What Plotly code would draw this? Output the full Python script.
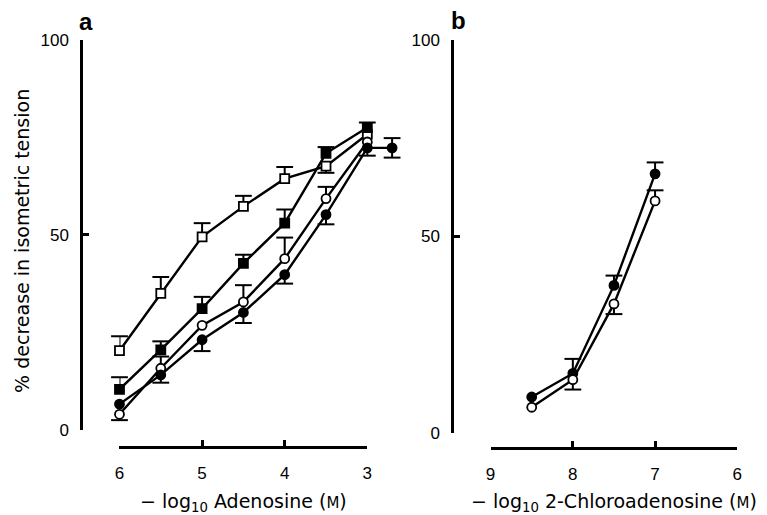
import plotly.graph_objects as go

W, H = 767, 515

# ---------------- data ----------------
# Panel a: -log10 Adenosine (M)
x_aden = [6, 5.5, 5, 4.5, 4, 3.5, 3]
x_aden_fc = [6, 5.5, 5, 4.5, 4, 3.5, 3, 2.7]

open_sq = [20.3, 35.0, 49.5, 57.3, 64.4, 67.6, 75.8]
open_sq_up = [3.7, 4.2, 3.5, 2.7, 3.0, 0, 0]
open_sq_dn = [0, 0, 0, 0, 0, 1.7, 0]

filled_sq = [10.4, 20.5, 31.1, 42.7, 53.0, 70.9, 77.5]
filled_sq_up = [3.1, 2.2, 3.0, 2.2, 3.5, 1.6, 1.3]
filled_sq_dn = [0, 0, 0, 0, 0, 0, 0]

open_ci = [4.0, 15.8, 26.8, 32.8, 43.9, 59.3, 73.8]
open_ci_up = [0, 3.0, 0, 4.3, 5.4, 3.0, 0]
open_ci_dn = [1.5, 0, 0, 0, 0, 0, 0]

filled_ci = [6.6, 14.1, 23.1, 30.1, 39.8, 55.2, 72.3, 72.3]
filled_ci_up = [0, 0, 0, 0, 0, 0, 0, 2.5]
filled_ci_dn = [0, 2.0, 2.9, 2.7, 2.3, 2.5, 2.0, 2.5]

# Panel b: -log10 2-Chloroadenosine (M)
x_chloro = [8.5, 8, 7.5, 7]
b_filled = [9.1, 15.1, 37.5, 65.9]
b_filled_up = [0, 3.7, 2.5, 2.9]
b_filled_dn = [0, 0, 0, 0]
b_open = [6.5, 13.5, 32.8, 59.0]
b_open_up = [0, 0, 0, 2.7]
b_open_dn = [0, 2.5, 2.6, 0]

y_ticks = [0, 50, 100]
a_ticks = [6, 5, 4, 3]
b_ticks = [9, 8, 7, 6]

title_a = "\u2212 log<sub>10</sub> Adenosine (<span style='font-size:15px'>M</span>)"
title_b = "\u2212 log<sub>10</sub> 2-Chloroadenosine (<span style='font-size:15px'>M</span>)"
title_y = "% decrease in isometric tension"

# ---------------- helpers ----------------
def px(x):
    return x / W

def py(y):
    return 1 - y / H

FONT = "Liberation Sans, Arial, Helvetica, sans-serif"
TFONT = "DejaVu Sans, Liberation Sans, sans-serif"

fig = go.Figure()


def add_series(x, y, up, dn, symbol, fill, xa, ya):
    fig.add_trace(go.Scatter(
        x=x, y=y, xaxis=xa, yaxis=ya, mode="lines+markers",
        line=dict(color="black", width=2.4),
        marker=dict(symbol=symbol, size=9, color=fill,
                    line=dict(color="black", width=1.8)),
        error_y=dict(type="data", symmetric=False, array=up, arrayminus=dn,
                     color="black", thickness=2, width=0),
        cliponaxis=False, showlegend=False, hoverinfo="skip"))
    cx, cy = [], []
    for xi, yi, u, d in zip(x, y, up, dn):
        if u > 0:
            cx.append(xi); cy.append(yi + u)
        if d > 0:
            cx.append(xi); cy.append(yi - d)
    if cx:
        fig.add_trace(go.Scatter(
            x=cx, y=cy, xaxis=xa, yaxis=ya, mode="markers",
            marker=dict(symbol="line-ew", size=12,
                        line=dict(color="black", width=2)),
            cliponaxis=False, showlegend=False, hoverinfo="skip"))


# panel a
add_series(x_aden, open_sq, open_sq_up, open_sq_dn, "square", "white", "x", "y")
add_series(x_aden, filled_sq, filled_sq_up, filled_sq_dn, "square", "black", "x", "y")
add_series(x_aden, open_ci, open_ci_up, open_ci_dn, "circle", "white", "x", "y")
add_series(x_aden_fc, filled_ci, filled_ci_up, filled_ci_dn, "circle", "black", "x", "y")

# dummy trace for the displayed panel-a x axis
fig.add_trace(go.Scatter(x=[a_ticks[0], a_ticks[-1]], y=[None, None], xaxis="x3", yaxis="y",
                         mode="markers", showlegend=False, hoverinfo="skip"))

# panel b
add_series(x_chloro, b_filled, b_filled_up, b_filled_dn, "circle", "black", "x2", "y2")
add_series(x_chloro, b_open, b_open_up, b_open_dn, "circle", "white", "x2", "y2")

axis_common = dict(showline=True, linecolor="black", linewidth=2.5,
                   ticklen=6, tickwidth=2.5, tickcolor="black",
                   showgrid=False, zeroline=False,
                   tickfont=dict(family=FONT, size=17, color="black"))

title_font = dict(family=TFONT, size=19, color="black")

unit_a = 83.7  # pixels per unit on panel a x axis
fig.update_layout(
    width=W, height=H,
    margin=dict(l=0, r=0, t=0, b=0),
    paper_bgcolor="white", plot_bgcolor="rgba(0,0,0,0)",
    xaxis=dict(domain=[px(116), px(116 + unit_a * 3.4)], range=[6, 2.6],
               visible=False, anchor="y"),
    xaxis3=dict(domain=[px(116), px(116 + unit_a * 3)], range=[6, 3],
                anchor="free", position=py(455), ticks="inside",
                tickvals=a_ticks, ticklabelstandoff=10,
                title=dict(text=title_a, font=title_font, standoff=12),
                **axis_common),
    yaxis=dict(domain=[py(437), py(32)], range=[0, 100], anchor="free",
               position=px(77), ticks="inside", tickvals=y_ticks,
               ticklabelstandoff=8, **axis_common),
    xaxis2=dict(domain=[px(492), px(742)], range=[9, 6], anchor="free",
                position=py(456), ticks="inside", tickvals=b_ticks,
                ticklabelstandoff=10,
                title=dict(text=title_b, font=title_font, standoff=12),
                **axis_common),
    yaxis2=dict(domain=[py(440), py(32)], range=[0, 100], anchor="free",
                position=px(453), ticks="inside", tickvals=y_ticks,
                ticklabelstandoff=8, **axis_common),
)


def label(text, x, y, font, angle=0):
    fig.add_annotation(text=text, x=px(x), y=py(y), xref="paper", yref="paper",
                       xanchor="center", yanchor="middle", textangle=angle,
                       showarrow=False, font=font)


label("<b>a</b>", 82, 13, dict(family=FONT, size=24, color="black"))
label("<b>b</b>", 459, 12, dict(family=FONT, size=24, color="black"))
label(title_y, 17, 241, title_font, -90)

fig.write_html("out.html")
